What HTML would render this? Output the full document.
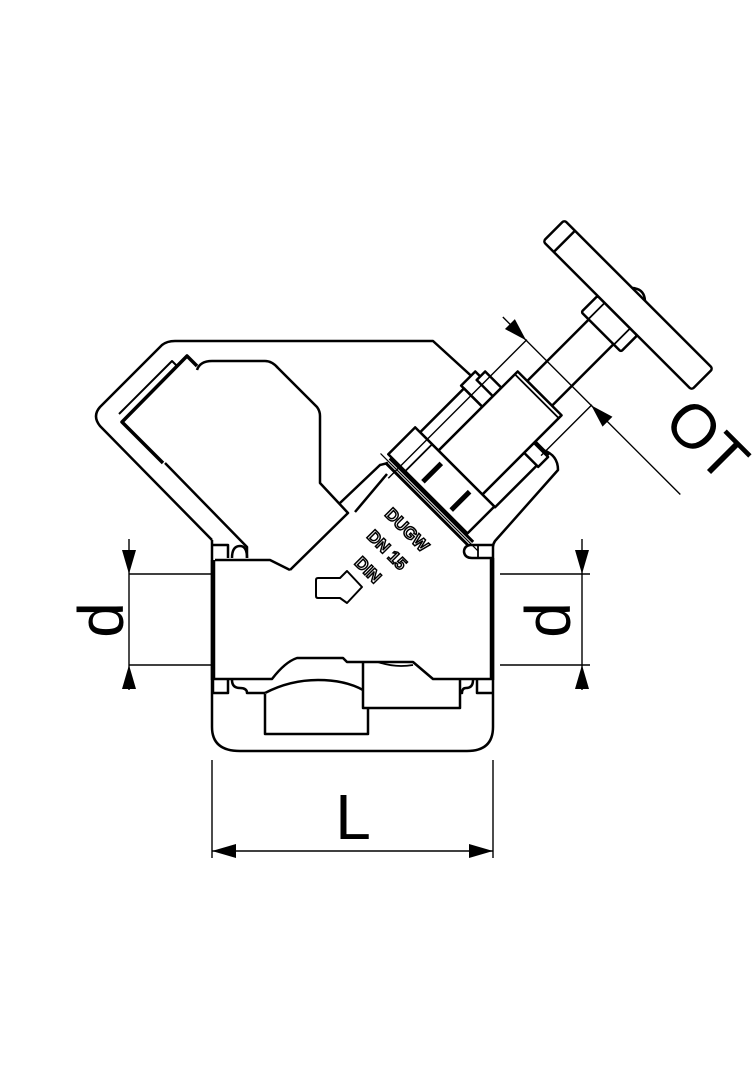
<!DOCTYPE html>
<html><head><meta charset="utf-8"><style>
html,body{margin:0;padding:0;background:#fff;}
svg{display:block;}
text{font-family:"Liberation Sans",sans-serif;}
</style></head><body>
<svg width="756" height="1080" viewBox="0 0 756 1080" xmlns="http://www.w3.org/2000/svg">
<g fill="none" stroke="#000" stroke-width="2.5" stroke-linejoin="round">
<!-- hood outer -->
<path d="M212,540 L100,426 Q92,416 100,407 L162,345 Q167,341 175,341 L433,341 L490,393"/>
<!-- hood inner -->
<path d="M247,558 L247,547 L165,463"/>
<path d="M163,463 L122,422 L187,356 L197,366" stroke-width="3.5"/>
<path d="M119,414 L123,410 L172,361 L176,365" stroke-width="2"/>
<path d="M197,370 Q200,361 212,361 L265,361 Q272,361 278,368 L317,407 Q320,411 320,416 L320,483 L348,513 L290,570"/>
<path d="M340,503 L380,465 L388,463"/>
<path d="M355,512 L387,474"/>
<path d="M215,560 L270,560 L290,570"/>
<!-- right neck -->
<path d="M543,450 Q558,455 558,470 L495,541 Q493,544 493,547"/>
<path d="M493,545 L470,545 Q464,546 464,552 Q465,558 472,558 L493,558"/>
<path d="M478,545 L478,558" stroke-width="1.8"/>
<!-- left top gasket -->
<path d="M213,545 L228,545 L228,558"/>
<path d="M232,558 Q232,546 240,546 Q247,546 247,558"/>
<!-- body sides -->
<path d="M212,540 L212,727 Q212,751 240,751 L467,751 Q493,751 493,727 L493,547"/>
<path d="M213,560 L213,680 M492,558 L492,680" stroke-width="4.5"/>
<!-- lower section -->
<path d="M212,679 L272,679 Q285,662 297,658 L343,658 L347,662 L413,662 L433,679 L493,679"/>
<path d="M363,662 L363,708 L460,708 L460,680"/>
<path d="M265,694 L265,734 L368,734 L368,708"/>
<path d="M265,693 Q290,680 318,680 Q345,680 363,690"/>
<path d="M213,680 L213,693 L228,693 L228,680"/>
<path d="M232,680 Q232,688 240,688 Q247,688 247,693 L265,693"/>
<path d="M477,680 L477,693 L492,693"/>
<path d="M473,680 Q473,688 466,688 Q462,688 462,693 L460,693"/>
<path d="M378,662 Q395,668 413,665" stroke-width="1.8"/>
<!-- flow arrow -->
<path d="M318,578 L340,578 L347,571 L362,587 L347,603 L340,598 L318,598 Q316,598 316,596 L316,580 Q316,578 318,578 Z" stroke-width="2"/>
</g>
<!-- bonnet assembly in rotated frame -->
<g transform="translate(628,305) rotate(-45)" fill="#fff" stroke="#000" stroke-width="2.5" stroke-linejoin="round">
<rect x="-125" y="-17.5" width="90" height="35"/>
<rect x="-38" y="-28" width="23" height="56" rx="2"/>
<rect x="-15" y="-105" width="30" height="210" rx="3"/>
<path d="M-15,-90 L15,-90" fill="none"/>
<path d="M15,-9 Q23,0 15,9" fill="none"/>
<path d="M-15,-18 L-38,-18 M-15,18 L-38,18" fill="none" stroke-width="1.8"/>
<rect x="-175" y="-61" width="20" height="30"/>
<rect x="-160" y="-54" width="12" height="23"/>
<rect x="-237" y="-57" width="62" height="26"/>
<rect x="-237" y="31" width="75" height="18"/>
<rect x="-178" y="31" width="14" height="20"/>
<rect x="-237" y="-31" width="112" height="62"/>
<path d="M-129,-31 L-129,31" fill="none" stroke-width="1.8"/>
<rect x="-275" y="-64" width="38" height="112"/>
<path d="M-270,-20 L-244,-20 M-270,20 L-244,20" fill="none" stroke-width="5"/>
<path d="M-275,-40 L-237,-40" fill="none" stroke-width="1.8"/>
<path d="M-277,-60 L-277,58 M-283,-60 L-283,58" fill="none" stroke-width="3"/>
<path d="M-280,-70 L-280,68" fill="none" stroke-width="1.2"/>
<!-- OT dimension -->
<g stroke-width="1.4" fill="none">
<path d="M-96,-47 L-292,-47 M-96,45 L-168,45 M-97,-80 L-97,171"/>
</g>
<path d="M-97,-47 L-104,-70 L-90,-70 Z" fill="#000" stroke="none"/>
<path d="M-97,45 L-104,68 L-90,68 Z" fill="#000" stroke="none"/>
</g>
<!-- labels on body -->
<g font-weight="bold" font-size="17" fill="#fff" stroke="#000" stroke-width="1.5" text-anchor="middle">
<text transform="translate(403,534) rotate(45)">DUGW</text>
<text transform="translate(383,554) rotate(45)">DN 15</text>
<text transform="translate(364,574) rotate(45)">DIN</text>
</g>
<text transform="translate(692,455) rotate(45)" font-size="62" text-anchor="middle" fill="#000">OT</text>
<!-- d dimensions -->
<g stroke="#000" stroke-width="1.4" fill="none">
<path d="M129,539 L129,690 M129,574 L213,574 M129,665 L213,665"/>
<path d="M582,539 L582,690 M500,574 L590,574 M500,665 L590,665"/>
<path d="M212,760 L212,858 M493,760 L493,858 M212,851 L493,851"/>
</g>
<g fill="#000">
<path d="M129,574 L122,550 L136,550 Z"/>
<path d="M129,665 L122,689 L136,689 Z"/>
<path d="M582,574 L575,550 L589,550 Z"/>
<path d="M582,665 L575,689 L589,689 Z"/>
<path d="M212,851 L236,844 L236,858 Z"/>
<path d="M493,851 L469,844 L469,858 Z"/>
</g>
<text transform="translate(123,620) rotate(-90)" font-size="64" text-anchor="middle" fill="#000">d</text>
<text transform="translate(570,620) rotate(-90)" font-size="64" text-anchor="middle" fill="#000">d</text>
<text x="353" y="839" font-size="64" text-anchor="middle" fill="#000">L</text>
</svg>
</body></html>
